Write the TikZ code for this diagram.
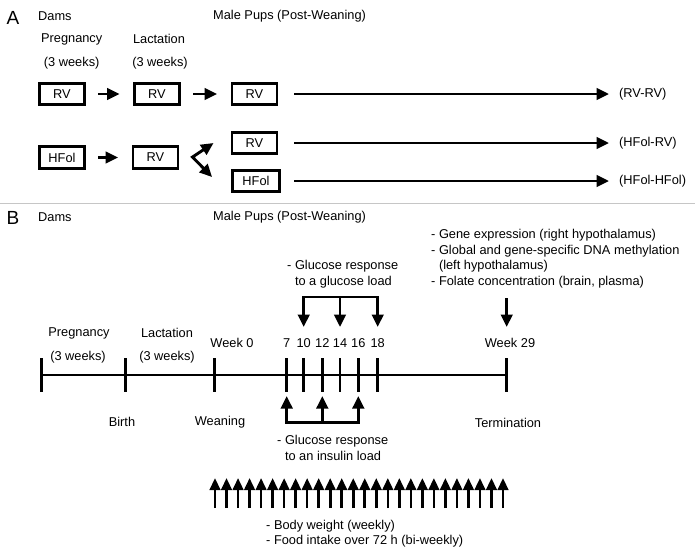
\documentclass[tikz,border=0pt]{standalone}
\usepackage{fontspec}
\setmainfont{Liberation Sans}
\usetikzlibrary{arrows.meta, positioning}

\begin{document}
\begin{tikzpicture}[x=1pt, y=-1pt, font=\fontsize{12.8}{15.6}\selectfont, inner sep=1pt,
  >={Triangle[length=12.5pt, width=11.5pt]},
  bar/.style={line width=2.9pt},
  diet/.style={draw, line width=2.9pt, minimum width=45pt, minimum height=21.5pt, inner sep=2pt},
  feed/.style={->, bar, shorten <=12.5pt, shorten >=13.5pt},
  big/.style={font=\fontsize{19}{19}\selectfont}]
  \useasboundingbox (0,0) rectangle (695,558);

  % panel A: diet groups
  \node[big] at (13,18) {A};
  \node[anchor=west] at (37,16) {Dams};
  \node[anchor=west] at (212,16) {Male Pups (Post-Weaning)};
  \node at (71.7,39) {Pregnancy};
  \node at (71.7,63) {(3 weeks)};
  \node at (159,39) {Lactation};
  \node at (160,63) {(3 weeks)};

  \node[diet] (dam1) at (62,94) {RV};
  \node[diet] (lac1) at (157,94) {RV};
  \node[diet] (pup1) at (254.5,94) {RV};
  \node[diet] (dam2) at (62,157.5) {HFol};
  \node[diet] (lac2) at (155.5,157.5) {RV};
  \node[diet] (pup2) at (254.5,143) {RV};
  \node[diet, minimum width=47pt] (pup3) at (256,181) {HFol};

  \node[anchor=west] (grp1) at (618,94) {(RV-RV)};
  \node[anchor=west] (grp2) at (618,143) {(HFol-RV)};
  \node[anchor=west] (grp3) at (618,181) {(HFol-HFol)};

  \draw[feed] (dam1) -- (lac1);
  \draw[feed] (lac1) -- (pup1);
  \draw[feed] (dam2) -- (lac2);
  \coordinate (fork) at (192.5,157);
  \draw[<->, bar] ([xshift=-17pt]pup2.west) -- (fork) -- ([xshift=-19pt, yshift=4pt]pup3.west);

  \coordinate (tail) at (294,0);
  \foreach \p/\g in {pup1/grp1, pup2/grp2, pup3/grp3}
    \draw[->, bar, shorten >=9pt] (tail |- \p) -- (\g.west |- \p);

  \draw[gray!45, line width=1pt] (0,203) -- (695,203);

  % panel B: timeline
  \node[big] at (13,218) {B};
  \node[anchor=west] at (37,217) {Dams};
  \node[anchor=west] at (212,217) {Male Pups (Post-Weaning)};

  \foreach \n/\x in {mate/41.7, birth/125.7, wean/214.3, w7/286.7, w10/303.7, w12/322.3,
                     w14/340, w16/358.3, w18/377.7, w29/506.7}
    \coordinate (\n) at (\x,375);
  \draw[bar] (mate) -- (w29);
  \foreach \n in {mate,birth,wean,w7,w10,w12,w14,w16,w18,w29}
    \draw[bar] ([yshift=17pt]\n) -- ([yshift=-17pt]\n);

  \node at (79,333) {Pregnancy};
  \node at (78,357) {(3 weeks)};
  \node at (167,333) {Lactation};
  \node at (167,357) {(3 weeks)};
  \node at (232,343) {Week 0};
  \foreach \n/\w in {w7/7, w10/10, w12/12, w14/14, w16/16, w18/18}
    \node at ([yshift=32pt]\n) {\w};
  \node at (510,343) {Week 29};
  \node at (122,422) {Birth};
  \node at (220,422) {Weaning};
  \node at (508,423) {Termination};

  % glucose load
  \coordinate (gload) at (340,297);
  \draw[<->, bar] ([yshift=48pt]w10) |- (gload) -| ([yshift=48pt]w18);
  \draw[->, bar] (gload) -- ([yshift=48pt]w14);
  \node[anchor=west, align=left] at (286,274) {- Glucose response\\\hspace{7.8pt}to a glucose load};

  % termination
  \draw[->, bar] ([yshift=77pt]w29) -- ([yshift=48pt]w29);
  \node[anchor=west, align=left] at (430,258.5) {- Gene expression (right hypothalamus)\\
    - Global and gene-specific DNA methylation\\\hspace{7.8pt}(left hypothalamus)\\
    - Folate concentration (brain, plasma)};

  % insulin load
  \coordinate (iload) at (322.3,422.5);
  \draw[<->, bar] ([yshift=-21pt]w7) |- (iload) -| ([yshift=-21pt]w16);
  \draw[->, bar] (iload) -- ([yshift=-21pt]w12);
  \node[anchor=west, align=left] at (276,448) {- Glucose response\\\hspace{7.8pt}to an insulin load};

  % weekly measures
  \foreach \i in {0,...,25}
    \draw[-{Triangle[length=12pt, width=10.5pt]}, line width=2.6pt]
      (215+11.52*\i,508) -- (215+11.52*\i,478);
  \node[anchor=west, align=left] at (265,533.5) {- Body weight (weekly)\\- Food intake over 72 h (bi-weekly)};
\end{tikzpicture}
\end{document}
